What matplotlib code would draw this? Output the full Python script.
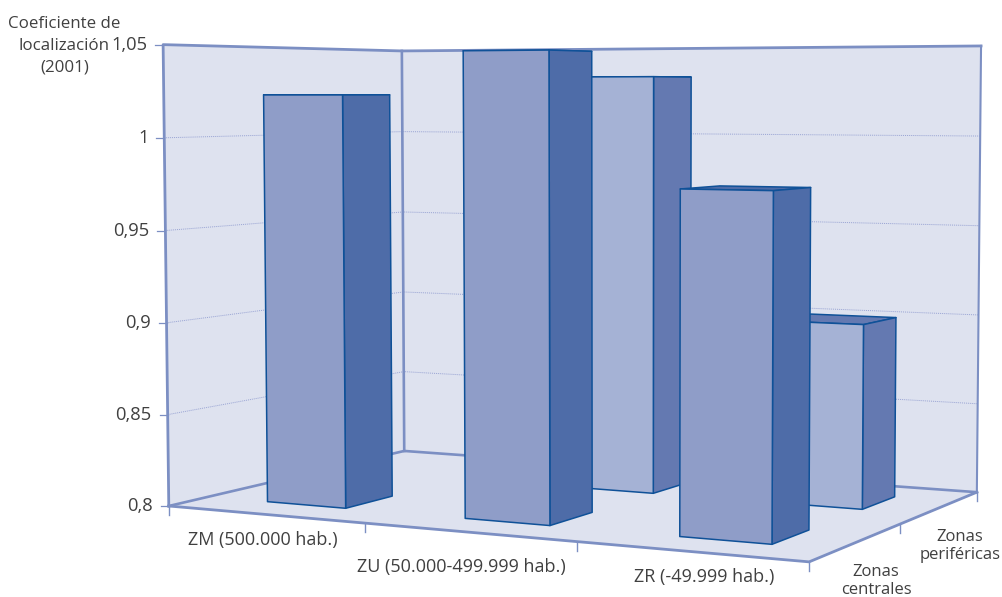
import numpy as np
import matplotlib
matplotlib.use("Agg")
import matplotlib.pyplot as plt
from matplotlib.patches import Polygon

plt.rcParams['font.family'] = ['Open Sans', 'DejaVu Sans']

categories = ['ZM (500.000 hab.)', 'ZU (50.000-499.999 hab.)', 'ZR (-49.999 hab.)']
centrales = [1.023, 1.046, 0.976]
perifericas = [None, 1.033, 0.900]  # no bar for ZM
yticks = [0.8, 0.85, 0.9, 0.95, 1, 1.05]
ytick_labels = ['0,8', '0,85', '0,9', '0,95', '1', '1,05']
ymin, ymax = 0.8, 1.05

wall_color = '#dee2ef'
frame_color = '#7c8fc3'
edge_color = '#0f5198'
text_color = '#404040'

# camera matrix solved from the corners of the chart box (u, v, w in 0..1)
box = np.array([[0, 0, 0], [0, 0, 1], [0, 1, 0], [0, 1, 1], [1, 1, 0], [1, 1, 1], [1, 0, 0]], float)
screen = np.array([[169, 506], [163, 44.5], [404, 451], [402, 51], [977, 492], [981, 46], [809, 562]], float)
rows = []
for (X, Y, Z), (sx, sy) in zip(box, screen):
    rows.append([X, Y, Z, 1, 0, 0, 0, 0, -sx * X, -sx * Y, -sx * Z, -sx])
    rows.append([0, 0, 0, 0, X, Y, Z, 1, -sy * X, -sy * Y, -sy * Z, -sy])
P = np.linalg.svd(np.array(rows))[2][-1].reshape(3, 4)


def proj(u, v, w):
    h = P @ np.array([u, v, w, 1.0])
    return h[:2] / h[2]


def zval(value):
    return (value - ymin) / (ymax - ymin)


fig = plt.figure(figsize=(10.02, 5.97), dpi=100)
ax = fig.add_axes([0, 0, 1, 1])
ax.set_xlim(0, 1002)
ax.set_ylim(597, 0)
ax.axis('off')


def face(points, color, z=1, edge='none', lw=0):
    ax.add_patch(Polygon([proj(*p) for p in points], closed=True, facecolor=color,
                         edgecolor=edge, linewidth=lw, joinstyle='round', zorder=z))


def line(points, color=frame_color, lw=2.0, z=2, **kw):
    xy = np.array([proj(*p) for p in points])
    ax.plot(xy[:, 0], xy[:, 1], color=color, lw=lw, zorder=z, solid_capstyle='projecting', **kw)


# walls and floor
face([(0, 0, 0), (0, 0, 1), (0, 1, 1), (0, 1, 0)], wall_color)
face([(0, 1, 0), (0, 1, 1), (1, 1, 1), (1, 1, 0)], wall_color)
face([(0, 0, 0), (1, 0, 0), (1, 1, 0), (0, 1, 0)], wall_color)

# dotted gridlines on the walls
for t in yticks[1:-1]:
    w = zval(t)
    line([(0, 0, w), (0, 1, w), (1, 1, w)], color='#98a3d3', lw=0.7, z=1.5, linestyle=(0, (1, 1)))

line([(0, 0, 0), (0, 0, 1), (0, 1, 1), (1, 1, 1)], lw=2.0)
line([(0, 1, 0), (0, 1, 1)], lw=1.9)
line([(1, 1, 0), (1, 1, 1)], lw=1.5)
line([(0, 0, 0), (0, 1, 0), (1, 1, 0)], lw=1.9)
line([(0, 0, 0), (1, 0, 0), (1, 1, 0)], lw=2.0)

# ticks
for t, lab in zip(yticks, ytick_labels):
    x0, y0 = proj(0, 0, zval(t))
    ax.plot([x0 - 8, x0], [y0, y0], color=frame_color, lw=0.9, zorder=1.6)
    ax.text(x0 - 16, y0, lab, ha='right', va='center', fontsize=13.2, color=text_color)
for i in range(4):
    x0, y0 = proj(i / 3, 0, 0)
    ax.plot([x0, x0], [y0, y0 + 9], color=frame_color, lw=1.0, zorder=1.6)
for v in [0.5, 1]:
    x0, y0 = proj(1, v, 0)
    ax.plot([x0, x0], [y0, y0 + 9], color=frame_color, lw=1.0, zorder=1.6)


def bar3d(i, v0, v1, value, front, side):
    center = (i + 0.5) / 3 + 0.007
    u0, u1 = center - 0.069, center + 0.066
    w = zval(value)
    kw = dict(z=3, edge=edge_color, lw=1.1)
    face([(u0, v1, w), (u1, v1, w), (u1, v0, w), (u0, v0, w)], side, **kw)
    face([(u1, v0, 0), (u1, v1, 0), (u1, v1, w), (u1, v0, w)], side, **kw)
    face([(u0, v0, 0), (u1, v0, 0), (u1, v0, w), (u0, v0, w)], front, **kw)


# back row first so the front row covers it
for i, val in enumerate(perifericas):
    if val is not None:
        bar3d(i, 0.65, 0.85, val, '#a5b2d5', '#6479b1')
for i, val in enumerate(centrales):
    bar3d(i, 0.15, 0.345, val, '#8f9dc8', '#4e6ca8')

# labels
label_pos = [(263, 540), (461, 567), (704, 577)]
for lab, (x, y) in zip(categories, label_pos):
    ax.text(x, y, lab, ha='center', va='center', fontsize=13, color=text_color)
for txt, y in zip(['Coeficiente de', 'localización', '(2001)'], [24, 46, 68]):
    ax.text(64.5, y, txt, ha='center', va='center', fontsize=12.2, color=text_color)
ax.text(876, 581, 'Zonas\ncentrales', ha='center', va='center', fontsize=12, color=text_color, linespacing=1.175)
ax.text(960, 546, 'Zonas\nperiféricas', ha='center', va='center', fontsize=12, color=text_color, linespacing=1.175)

fig.savefig('out.png', dpi=100)
